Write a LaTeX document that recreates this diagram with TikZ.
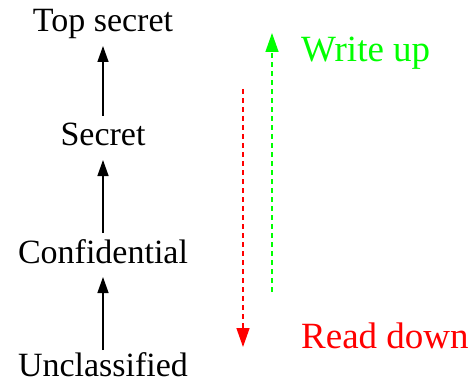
\documentclass[tikz,border=0pt]{standalone}
\usepackage{fontspec}
\setmainfont{Liberation Serif}
\usetikzlibrary{arrows.meta}
\begin{document}
\begin{tikzpicture}[x=1pt,y=-1pt,
  level/.style={font=\fontsize{34}{40}\selectfont, anchor=base, inner xsep=0pt,
    inner ysep=6pt, outer sep=0pt, text height=24pt, text depth=8pt},
  flow/.style={line width=1.4pt, -{Triangle[length=16pt,width=11pt]}},
  policy/.style={line width=1.4pt, dash pattern=on 5pt off 4pt,
    -{Triangle[length=19pt,width=13pt]}},
  tag/.style={font=\fontsize{37}{44}\selectfont, anchor=base west, inner sep=0pt}]
  \useasboundingbox (0,0) rectangle (473,382);
  % security levels, lowest at the bottom
  \node[level] (top) at (103,32) {Top secret};
  \node[level] (sec) at (103,146) {Secret};
  \node[level] (conf) at (103,263) {Confidential};
  \node[level, text depth=0pt, inner ysep=4pt] (uncl) at (103,376) {Unclassified};
  \draw[flow] (sec.north) -- (top.south);
  \draw[flow] (conf.north) -- (sec.south);
  \draw[flow] ([yshift=-2pt]uncl.north) -- (conf.south);
  % information flow rules
  \coordinate (wu0) at (272,292);
  \coordinate (wu1) at (272,33);
  \coordinate (rd0) at (243,89);
  \coordinate (rd1) at (243,347);
  \draw[policy, green] (wu0) -- (wu1);
  \draw[policy, red] (rd0) -- (rd1);
  \node[tag, text=green] (wup) at (301,62) {Write up};
  \node[tag, text=red] (rdown) at (301,348) {Read down};
\end{tikzpicture}
\end{document}
